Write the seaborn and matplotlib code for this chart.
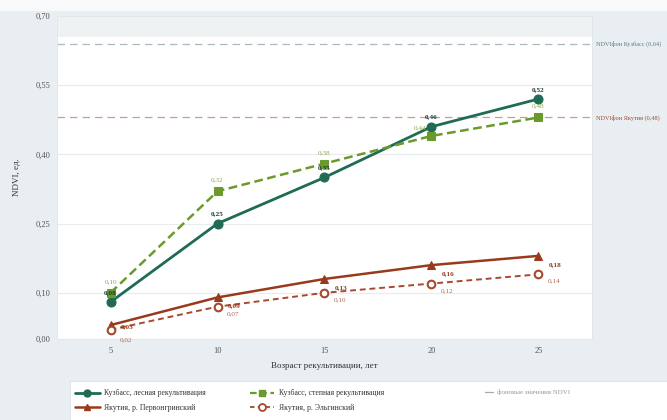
import matplotlib
matplotlib.use("Agg")
import matplotlib.pyplot as plt
import matplotlib.patches as mpatches
from matplotlib.lines import Line2D
import seaborn as sns
import pandas as pd

# ---- data ----
years = [5, 10, 15, 20, 25]
kuz_forest = [0.08, 0.25, 0.35, 0.46, 0.52]
kuz_steppe = [0.10, 0.32, 0.38, 0.44, 0.48]
yak_perv = [0.03, 0.09, 0.13, 0.16, 0.18]
yak_elgin = [0.02, 0.07, 0.10, 0.12, 0.14]
bg_kuz = 0.64
bg_yak = 0.48
y_ticks = [0.00, 0.10, 0.25, 0.40, 0.55, 0.70]

names = ["Кузбасс, лесная рекультивация", "Кузбасс, степная рекультивация",
         "Якутия, р. Первонгринский", "Якутия, р. Эльгинский"]
xlabel = "Возраст рекультивации, лет"
ylabel = "NDVI, ед."
bg_label = "фоновые значения NDVI"

def fmt(v):
    return f"{v:.2f}".replace(".", ",")

sns.set_theme(style="white")
plt.rcParams["font.family"] = ["Liberation Serif", "DejaVu Serif"]

fig = plt.figure(figsize=(6.67, 4.2), dpi=100)
fig.patch.set_facecolor("#e8eef1")
fig.patches.append(mpatches.Rectangle((0, 0.975), 1, 0.025, transform=fig.transFigure,
                                      facecolor="#f7f9fa", edgecolor="none", zorder=-1))
# legend panel
fig.patches.append(mpatches.Rectangle((0.105, -0.01), 0.9, 0.103, transform=fig.transFigure,
                                      facecolor="white", edgecolor="#dfe5e8", lw=0.8, zorder=0))

ax = fig.add_axes([0.0855, 0.193, 0.802, 0.769])
ax.set_facecolor("white")

c_forest = "#1f6b55"
c_steppe = "#6b9a2c"
c_perv = "#9a3a1c"
c_elgin = "#a8482c"

ax.axhspan(0.655, 0.70, color="#eef2f3", zorder=0, lw=0)

df = pd.DataFrame({"year": years, "f": kuz_forest, "s": kuz_steppe, "p": yak_perv, "e": yak_elgin})

sns.lineplot(data=df, x="year", y="f", ax=ax, color=c_forest, lw=2.0, marker="o",
             markersize=6.5, markeredgecolor=c_forest, zorder=4)
sns.lineplot(data=df, x="year", y="s", ax=ax, color=c_steppe, lw=1.8, marker="s",
             markersize=6, markeredgecolor=c_steppe, dashes=(3.5, 1.8), zorder=5)
sns.lineplot(data=df, x="year", y="p", ax=ax, color=c_perv, lw=1.8, marker="^",
             markersize=5.5, markeredgecolor=c_perv, zorder=4)
sns.lineplot(data=df, x="year", y="e", ax=ax, color=c_elgin, lw=1.4, marker="o",
             markersize=5.5, markerfacecolor="white", markeredgecolor=c_elgin,
             markeredgewidth=1.5, dashes=(3, 2), zorder=4)

ax.axhline(bg_kuz, color="#a9bcbd", lw=0.9, dashes=(6, 4), zorder=2)
ax.axhline(bg_yak, color="#d09a86", lw=0.9, dashes=(6, 4), zorder=2)

ax.text(1.007, bg_kuz, f"NDVIфон Кузбасс ({fmt(bg_kuz)})", transform=ax.get_yaxis_transform(),
        ha="left", va="center", fontsize=4.5, color="#5f7c80", clip_on=False)
ax.text(1.007, bg_yak, f"NDVIфон Якутия ({fmt(bg_yak)})", transform=ax.get_yaxis_transform(),
        ha="left", va="center", fontsize=4.5, color="#a3492d", clip_on=False)

# annotations
for x, v in zip(years, kuz_forest):
    ax.annotate(fmt(v), (x, v), xytext=(0, 7), textcoords="offset points", ha="center",
                va="center", fontsize=5.2, fontweight="bold", color="#1d3d38", zorder=6)
for i, (x, v) in enumerate(zip(years, kuz_steppe)):
    off = (-8, 6) if i == 3 else (0, 8)
    ax.annotate(fmt(v), (x, v), xytext=off, textcoords="offset points", ha="center",
                va="center", fontsize=5.2, color="#8aaa50", zorder=6)
for i, (x, v) in enumerate(zip(years, yak_perv)):
    off = (12, -1) if i == 0 else (12, -6)
    ax.annotate(fmt(v), (x, v), xytext=off, textcoords="offset points", ha="center",
                va="center", fontsize=5.2, fontweight="bold", color="#8e3a1e", zorder=6)
for i, (x, v) in enumerate(zip(years, yak_elgin)):
    off = (11, -7) if i == 0 else (11, -5)
    ax.annotate(fmt(v), (x, v), xytext=off, textcoords="offset points", ha="center",
                va="center", fontsize=5.2, color="#b06a55", zorder=6, annotation_clip=False)

ax.set_xlim(2.5, 27.5)
ax.set_ylim(0, 0.70)
ax.set_xticks(years)
ax.set_xticklabels([str(y) for y in years])
ax.set_yticks(y_ticks)
ax.set_yticklabels([fmt(t) for t in y_ticks])
ax.tick_params(axis="both", length=0, labelsize=6, colors="#555555")
ax.tick_params(axis="x", pad=6)
ax.tick_params(axis="y", pad=5)
ax.grid(axis="y", color="#e9ecec", lw=0.8)
ax.grid(axis="x", visible=False)
for s in ax.spines.values():
    s.set_color("#e3e7e8")
    s.set_linewidth(0.7)
ax.set_xlabel(xlabel, fontsize=6.5, color="#333333", labelpad=5)
ax.set_ylabel(ylabel, fontsize=6.5, color="#333333", labelpad=10)

handles = [
    Line2D([], [], color=c_forest, lw=2.0, marker="o", markersize=5),
    Line2D([], [], color=c_perv, lw=1.8, marker="^", markersize=5),
    Line2D([], [], color=c_steppe, lw=1.6, marker="s", markersize=5, dashes=(3, 1.6)),
    Line2D([], [], color=c_elgin, lw=1.3, marker="o", markersize=5, markerfacecolor="white",
           markeredgewidth=1.3, dashes=(2.5, 1.8)),
]
labels = [names[0], names[2], names[1], names[3]]
leg = fig.legend(handles, labels, ncol=2, loc="upper left", bbox_to_anchor=(0.112, 0.073),
                 frameon=False, fontsize=5.6, handlelength=3.2, handletextpad=0.6,
                 columnspacing=5.6, labelspacing=0.8, borderaxespad=0, borderpad=0)
for t in leg.get_texts():
    t.set_color("#333333")

leg2 = fig.legend([Line2D([], [], color="#aaaaaa", lw=0.9)], [bg_label], loc="upper left",
                  bbox_to_anchor=(0.727, 0.073), frameon=False, fontsize=5,
                  handlelength=1.2, handletextpad=0.5, borderaxespad=0, borderpad=0)
leg2.get_texts()[0].set_color("#999999")

fig.savefig("out.png", dpi=100, facecolor=fig.get_facecolor())
